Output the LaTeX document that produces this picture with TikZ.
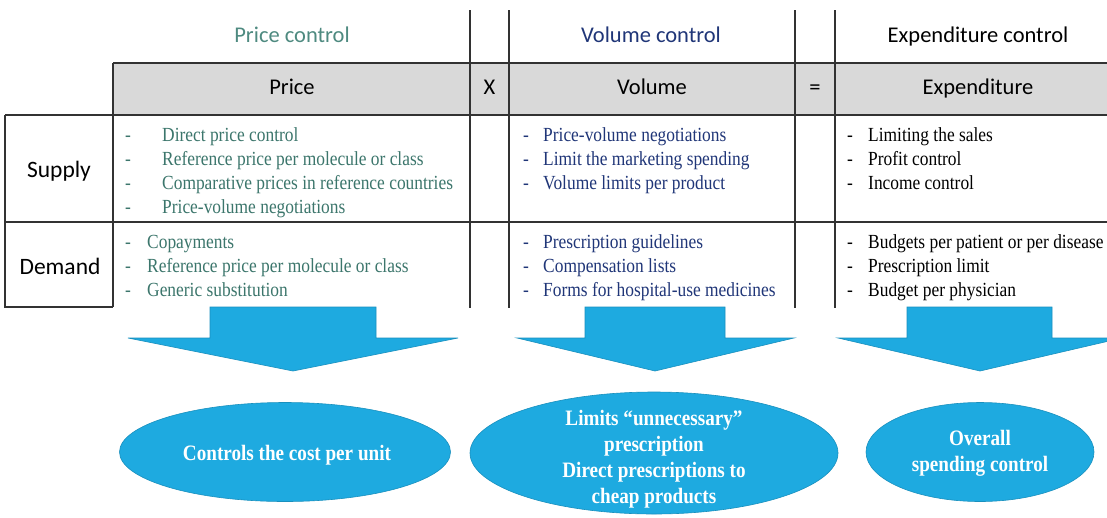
\documentclass[tikz,border=0pt]{standalone}
\usepackage{fontspec}
\setmainfont{Liberation Serif}
\newfontfamily\headf{Carlito}
\newfontfamily\bodyf[FakeStretch=0.87]{Liberation Serif}
\usetikzlibrary{shapes.geometric}
\definecolor{hdrgray}{RGB}{217,217,217}
\definecolor{arrblue}{RGB}{30,170,224}
\definecolor{pricecol}{RGB}{60,118,108}
\definecolor{titlepricecol}{RGB}{78,138,128}
\definecolor{volcol}{RGB}{32,54,120}
\definecolor{linecol}{RGB}{50,50,50}
\begin{document}
\begin{tikzpicture}[x=1pt,y=-1pt,
  gridline/.style={draw=linecol,line width=1.6pt},
  hdr/.style={font=\headf\fontsize{22.5}{26}\selectfont,anchor=base,inner sep=0},
  rowlabel/.style={font=\headf\fontsize{23.5}{26}\selectfont,anchor=base,inner sep=0},
  listitem/.style={font=\bodyf\fontsize{20}{24}\selectfont,anchor=base west,inner sep=0},
  blockarrow/.style={fill=arrblue,draw=arrblue!85!black,line width=0.6pt},
  result/.style={ellipse,fill=arrblue,draw=arrblue!85!black,line width=0.6pt,inner sep=0},
  restext/.style={text=white,font=\bodyf\bfseries\fontsize{22}{26}\selectfont,align=center,inner sep=0}]
\clip (0,0) rectangle (1107,517);
\fill[white] (0,0) rectangle (1107,517);
% header background
\fill[hdrgray] (113,63) rectangle (1107,115);
% grid
\draw[gridline] (113,63) -- (1107,63);
\draw[gridline] (5,115) -- (1107,115);
\draw[gridline] (5,222) -- (1107,222);
\draw[gridline] (5,115) -- (5,307) -- (113,307);
\draw[gridline] (113,63) -- (113,307);
\foreach \xx in {470,509,795,835} {\draw[gridline] (\xx,10) -- (\xx,308);}
% top titles
\node[hdr,text=titlepricecol] (pc) at (292,42) {Price control};
\node[hdr,text=volcol] (vc) at (651,42) {Volume control};
\node[hdr] (ec) at (978,42) {Expenditure control};
% header row
\node[hdr] (hp) at (292,94) {Price};
\node[hdr] (hx) at (489.5,94) {X};
\node[hdr] (hv) at (652,94) {Volume};
\node[hdr] (he) at (815,94) {=};
\node[hdr] (hexp) at (978,94) {Expenditure};
% row labels
\node[rowlabel] (sup) at (59,177) {Supply};
\node[rowlabel] (dem) at (60,274) {Demand};
% price column
\foreach \t [count=\i] in {Direct price control, Reference price per molecule or class, Comparative prices in reference countries, Price-volume negotiations} {
  \node[listitem,text=pricecol] (psd\i) at (125,{141+24.2*(\i-1)}) {-};
  \node[listitem,text=pricecol] (ps\i) at (162,{141+24.2*(\i-1)}) {\t};
}
\foreach \t [count=\i] in {Copayments, Reference price per molecule or class, Generic substitution} {
  \node[listitem,text=pricecol] (pdd\i) at (125,{248+24*(\i-1)}) {-};
  \node[listitem,text=pricecol] (pd\i) at (147,{248+24*(\i-1)}) {\t};
}
% volume column
\foreach \t [count=\i] in {Price-volume negotiations, Limit the marketing spending, Volume limits per product} {
  \node[listitem,text=volcol] (vsd\i) at (523,{141+24.2*(\i-1)}) {-};
  \node[listitem,text=volcol] (vs\i) at (543,{141+24.2*(\i-1)}) {\t};
}
\foreach \t [count=\i] in {Prescription guidelines, Compensation lists, Forms for hospital-use medicines} {
  \node[listitem,text=volcol] (vdd\i) at (523,{248+24*(\i-1)}) {-};
  \node[listitem,text=volcol] (vd\i) at (543,{248+24*(\i-1)}) {\t};
}
% expenditure column
\foreach \t [count=\i] in {Limiting the sales, Profit control, Income control} {
  \node[listitem] (esd\i) at (847,{141+24.2*(\i-1)}) {-};
  \node[listitem] (es\i) at (868,{141+24.2*(\i-1)}) {\t};
}
\foreach \t [count=\i] in {Budgets per patient or per disease, Prescription limit, Budget per physician} {
  \node[listitem] (edd\i) at (847,{248+24*(\i-1)}) {-};
  \node[listitem] (ed\i) at (868,{248+24*(\i-1)}) {\t};
}
% block arrows
\draw[blockarrow] (210,307) -- (376,307) -- (376,338) -- (458,338) -- (293,371) -- (128,338) -- (210,338) -- cycle;
\draw[blockarrow] (585,307) -- (725,307) -- (725,338) -- (794,338) -- (655,371) -- (517,338) -- (585,338) -- cycle;
\draw[blockarrow] (907,307) -- (1052,307) -- (1052,338) -- (1122,338) -- (980,371) -- (838,338) -- (907,338) -- cycle;
% result ellipses
\node[result,minimum width=331pt,minimum height=99pt] (e1) at (285,452) {};
\node[result,minimum width=368pt,minimum height=122pt] (e2) at (654,453) {};
\node[result,minimum width=228pt,minimum height=99pt] (e3) at (980,452) {};
\node[restext] (t1) at (287,455) {Controls the cost per unit};
\node[restext] (t2) at (654,459) {Limits “unnecessary”\\prescription\\Direct prescriptions to\\cheap products};
\node[restext] (t3) at (980,453) {Overall\\spending control};
\end{tikzpicture}
\end{document}
